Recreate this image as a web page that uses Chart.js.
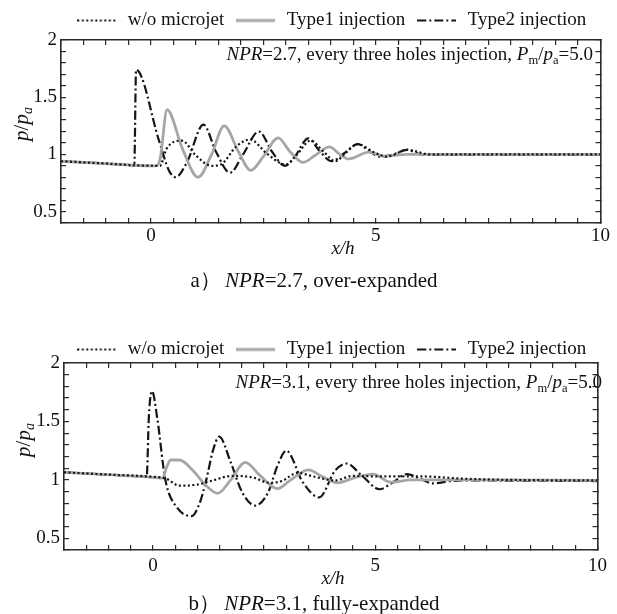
<!DOCTYPE html>
<html><head><meta charset="utf-8">
<script src="https://cdn.jsdelivr.net/npm/chart.js@4/dist/chart.umd.min.js"></script>
<style>
html,body{margin:0;padding:0;background:#fff;}
#wrap{position:relative;width:617px;height:614px;overflow:hidden;font-family:"Liberation Serif","DejaVu Serif",serif;color:#111;background:#fff;}
canvas{position:absolute;left:0;}
.t{position:absolute;white-space:nowrap;line-height:1;font-size:19px;}
.sub{font-size:0.66em;position:relative;top:0.32em;}
.cap{font-size:21px;left:0;width:628px;text-align:center;transform:translateY(-50%);}
</style></head><body>
<div id="wrap">
<canvas id="c1" width="617" height="262" style="top:0"></canvas>
<canvas id="c2" width="617" height="262" style="top:330px"></canvas>

<div class="t" style="right:24px;top:53px;transform:translateY(-50%)"><i>NPR</i>=2.7, every three holes injection, <i>P</i><span class="sub">m</span>/<i>p</i><span class="sub">a</span>=5.0</div>
<div class="t" style="right:15px;top:381px;transform:translateY(-50%)"><i>NPR</i>=3.1, every three holes injection, <i>P</i><span class="sub">m</span>/<i>p</i><span class="sub">a</span>=5.0</div>

<div class="t" style="left:21px;top:124px;font-size:21px;transform:translate(-50%,-50%) rotate(-90deg)"><i>p</i>/<i>p</i><span class="sub"><i>a</i></span></div>
<div class="t" style="left:23px;top:440px;font-size:21px;transform:translate(-50%,-50%) rotate(-90deg)"><i>p</i>/<i>p</i><span class="sub"><i>a</i></span></div>

<div class="t" style="left:343px;top:247px;transform:translate(-50%,-50%)"><i>x/h</i></div>
<div class="t" style="left:333px;top:577px;transform:translate(-50%,-50%)"><i>x/h</i></div>

<div class="t cap" style="top:280px">a）&#8201;<i>NPR</i>=2.7, over-expanded</div>
<div class="t cap" style="top:603px">b）&#8201;<i>NPR</i>=3.1, fully-expanded</div>
</div>
<script>
// ---------- axis / tick data ----------
const xMin = -2, xMax = 10, xStep = 0.5;
const yMin = 0.4, yMax = 2.0, yStep = 0.1;
const xTickLabels = [0, 5, 10];
const yTickLabels = [0.5, 1, 1.5, 2];
const seriesNames = ['w/o microjet', 'Type1 injection', 'Type2 injection'];

// ---------- a) NPR=2.7 ----------
const aDottedX = [-2, -1, -0.4, 0.2, 0.35, 0.69, 1.0, 1.35, 1.55, 1.9, 2.2, 2.6, 3.0, 3.25, 3.55, 3.85, 4.1, 4.35, 4.6, 4.95, 5.25, 5.7, 6.2, 7, 8, 10];
const aDottedY = [0.94, 0.92, 0.905, 0.90, 1.05, 1.12, 0.99, 0.90, 0.91, 1.07, 1.13, 1.0, 0.91, 1.0, 1.12, 1.02, 0.94, 1.02, 1.09, 1.02, 0.98, 1.04, 1.0, 1.0, 1.0, 1.0];
const aType1X = [-2, -1, -0.4, 0.1, 0.2, 0.36, 0.7, 1.05, 1.35, 1.63, 1.95, 2.22, 2.5, 2.83, 3.1, 3.38, 3.65, 3.97, 4.2, 4.4, 4.85, 5.2, 5.7, 6.5, 10];
const aType1Y = [0.94, 0.92, 0.905, 0.90, 0.95, 1.39, 1.05, 0.80, 1.0, 1.25, 1.02, 0.86, 0.98, 1.145, 1.02, 0.93, 0.99, 1.065, 1.0, 0.96, 1.02, 0.985, 1.0, 1.0, 1.0];
const aType2X = [-2, -1, -0.37, -0.33, 0.18, 0.4, 0.55, 0.8, 1.17, 1.45, 1.76, 2.05, 2.4, 2.7, 2.98, 3.2, 3.5, 3.75, 4.02, 4.3, 4.6, 4.85, 5.1, 5.4, 5.7, 6.0, 6.5, 10];
const aType2Y = [0.94, 0.92, 0.905, 1.74, 1.12, 0.86, 0.80, 0.93, 1.26, 1.02, 0.84, 1.0, 1.2, 1.02, 0.9, 0.98, 1.14, 1.03, 0.94, 1.01, 1.09, 1.03, 0.98, 1.0, 1.04, 1.0, 0.995, 0.995];

// ---------- b) NPR=3.1 ----------
const bDottedX = [-2, -1, -0.15, 0.3, 0.6, 1.0, 1.3, 1.8, 2.25, 2.62, 2.9, 3.25, 3.6, 4.1, 4.5, 5.0, 6.0, 7.0, 8.0, 10];
const bDottedY = [1.065, 1.045, 1.03, 1.01, 0.95, 0.96, 0.99, 1.035, 1.02, 0.975, 0.99, 1.06, 1.03, 0.995, 1.035, 1.03, 1.03, 1.01, 1.0, 0.995];
const bType1X = [-2, -1, -0.15, 0.22, 0.3, 0.4, 0.6, 0.9, 1.2, 1.46, 1.75, 2.08, 2.4, 2.8, 3.1, 3.5, 3.8, 4.15, 4.55, 4.95, 5.35, 5.8, 7, 10];
const bType1Y = [1.065, 1.045, 1.025, 1.015, 1.1, 1.17, 1.17, 1.08, 0.95, 0.885, 1.0, 1.15, 1.04, 0.925, 1.0, 1.085, 1.03, 0.975, 1.02, 1.05, 0.98, 1.0, 1.0, 0.995];
const bType2X = [-2, -1, -0.14, -0.09, -0.02, 0.1, 0.28, 0.55, 0.87, 1.05, 1.2, 1.35, 1.49, 1.75, 2.0, 2.3, 2.6, 2.8, 3.0, 3.37, 3.74, 4.1, 4.36, 4.69, 5.1, 5.4, 5.72, 6.0, 6.3, 6.7, 7.0, 10];
const bType2Y = [1.065, 1.045, 1.03, 1.55, 1.76, 1.52, 1.0, 0.76, 0.69, 0.8, 1.0, 1.25, 1.37, 1.15, 0.9, 0.78, 0.9, 1.12, 1.25, 0.98, 0.85, 1.08, 1.14, 1.04, 0.92, 0.98, 1.05, 1.01, 0.97, 0.99, 0.995, 0.99];

// ---------- styles ----------
const lineStyles = [
  {color: '#151515', width: 2.2, dash: [2, 2.5]},
  {color: '#a6a6a6', width: 2.8, dash: []},
  {color: '#151515', width: 2.2, dash: [9, 3, 2, 3]}
];
const FONT = 'Liberation Serif';
const AXIS_COLOR = '#2a2a2a';
const SAMPLE_W = 39;
const SAMPLE_BOX = 43;

// legend sample images (line style swatches)
function sampleCanvas(st) {
  const c = document.createElement('canvas');
  c.width = SAMPLE_W; c.height = 6;
  const ctx = c.getContext('2d');
  ctx.strokeStyle = st.color; ctx.lineWidth = st.width; ctx.setLineDash(st.dash);
  ctx.beginPath(); ctx.moveTo(0, 3); ctx.lineTo(SAMPLE_W, 3); ctx.stroke();
  return c;
}
const samples = lineStyles.map(sampleCanvas);

function pts(xs, ys) { return xs.map((x, i) => ({x: x, y: ys[i]})); }
function near(v, arr) { return arr.some(a => Math.abs(a - v) < 1e-6); }

function makeChart(id, series, g) {
  const datasets = series.map((s, i) => ({
    label: seriesNames[i],
    data: pts(s[0], s[1]),
    borderColor: lineStyles[i].color,
    backgroundColor: lineStyles[i].color,
    borderWidth: lineStyles[i].width,
    borderDash: lineStyles[i].dash,
    pointRadius: 0,
    pointHoverRadius: 0,
    pointStyle: samples[i],
    fill: false,
    cubicInterpolationMode: 'monotone',
    xAxisID: 'x', yAxisID: 'y'
  }));
  const gridOpt = {drawOnChartArea: false, tickLength: -5, color: AXIS_COLOR, lineWidth: 1.2};
  const borderOpt = {color: AXIS_COLOR, width: 1.6};
  return new Chart(document.getElementById(id), {
    type: 'line',
    data: {datasets},
    options: {
      responsive: false, animation: false, devicePixelRatio: 1,
      layout: {padding: {top: g.padTop, left: 0, right: 0, bottom: 0}},
      plugins: {
        tooltip: {enabled: false},
        legend: {
          position: 'top', fullSize: false, maxHeight: g.legendH,
          labels: {usePointStyle: true, pointStyleWidth: SAMPLE_BOX, padding: 10,
                   color: '#111', font: {family: FONT, size: 19}}
        }
      },
      scales: {
        x: {type: 'linear', position: 'bottom', min: xMin, max: xMax,
            afterFit: s => { s.height = g.xH; },
            ticks: {stepSize: xStep, autoSkip: false, maxRotation: 0, padding: g.xPad, color: '#111',
                    font: {family: FONT, size: 19},
                    callback: v => near(v, xTickLabels) ? String(v) : ''},
            grid: gridOpt, border: borderOpt},
        x2: {type: 'linear', position: 'top', min: xMin, max: xMax,
             afterFit: s => { s.height = 0; },
             ticks: {stepSize: xStep, autoSkip: false, display: false},
             grid: gridOpt, border: borderOpt},
        y: {type: 'linear', position: 'left', min: yMin, max: yMax,
            afterFit: s => { s.width = g.yW; },
            ticks: {stepSize: yStep, autoSkip: false, padding: 9, color: '#111',
                    font: {family: FONT, size: 19},
                    callback: v => near(v, yTickLabels) ? String(Math.round(v * 10) / 10) : ''},
            grid: gridOpt, border: borderOpt},
        y2: {type: 'linear', position: 'right', min: yMin, max: yMax,
             afterFit: s => { s.width = g.rW; },
             ticks: {stepSize: yStep, autoSkip: false, display: false},
             grid: gridOpt, border: borderOpt}
      }
    }
  });
}

makeChart('c1', [[aDottedX, aDottedY], [aType1X, aType1Y], [aType2X, aType2Y]],
  {padTop: 1, legendH: 39, xH: 39, xPad: 7, yW: 61, rW: 13});
makeChart('c2', [[bDottedX, bDottedY], [bType1X, bType1Y], [bType2X, bType2Y]],
  {padTop: 0, legendH: 33, xH: 42, xPad: 10, yW: 64, rW: 10});
</script>
</body></html>
